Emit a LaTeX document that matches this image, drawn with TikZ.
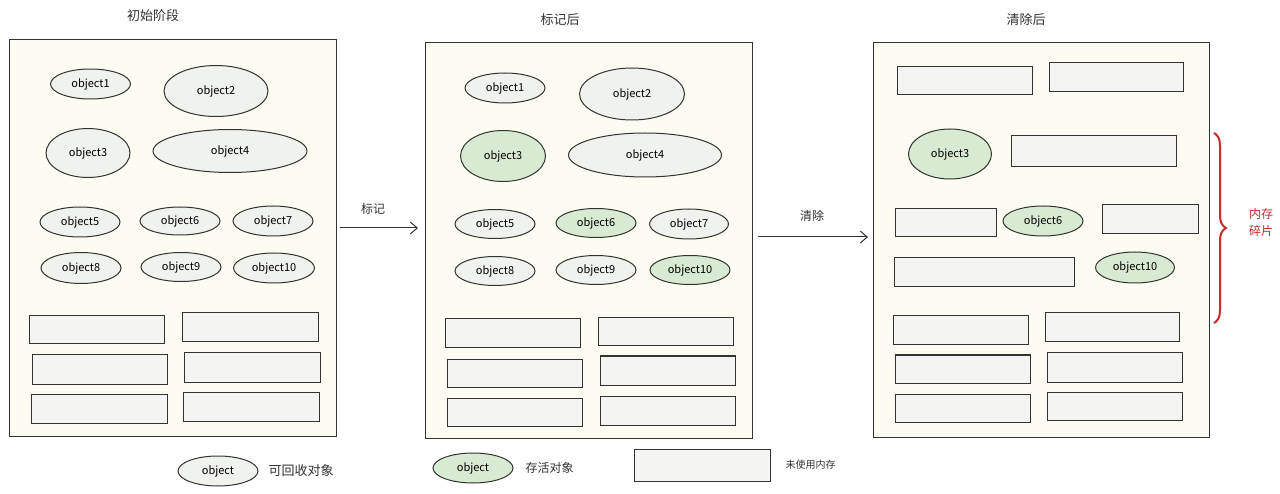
\documentclass[tikz,border=0pt]{standalone}
\usepackage{fontspec}
\setmainfont{Noto Sans CJK SC}
\newfontfamily\cjk{Noto Sans CJK SC}
\usetikzlibrary{shapes.geometric,arrows.meta,decorations.pathreplacing}
\definecolor{panelfill}{HTML}{FDFCF2}
\definecolor{objfill}{HTML}{F0F2EE}
\definecolor{livefill}{HTML}{D8EBD2}
\definecolor{memfill}{HTML}{F4F4F2}
\definecolor{ink}{HTML}{333333}
\definecolor{braceRed}{HTML}{C92A2A}
\tikzset{
  panel/.style={draw=ink, fill=panelfill, line width=1pt, rectangle, inner sep=0},
  obj/.style={draw=ink, fill=objfill, ellipse, line width=1pt, inner sep=0, text=black, font=\fontsize{11}{13}\selectfont},
  live/.style={obj, fill=livefill},
  mem/.style={draw=ink, fill=memfill, rectangle, line width=1pt, inner sep=0},
  title/.style={font=\cjk\fontsize{13}{15}\selectfont, text=ink},
  lbl/.style={font=\cjk\fontsize{12}{14}\selectfont, text=ink},
  arr/.style={draw=ink, line width=1pt, -{Straight Barb[length=7pt,width=12pt]}}
}
\begin{document}
\begin{tikzpicture}[x=1pt,y=-1pt]
\useasboundingbox[fill=white] (0,0) rectangle (1280,494);
% titles
\node[title] (t1) at (153,16) {初始阶段};
\node[title] (t2) at (560,20) {标记后};
\node[title] (t3) at (1026,20) {清除后};
% panels
\node[panel, minimum width=327, minimum height=396] (p1) at (172.5,238) {};
\node[panel, minimum width=327, minimum height=395] (p2) at (588.5,240.5) {};
\node[panel, minimum width=336, minimum height=394] (p3) at (1041,240) {};
% panel 1 objects
\node[obj, minimum width=80, minimum height=30] (a1) at (90.5,84) {object1};
\node[obj, minimum width=104, minimum height=51] (a2) at (216,91) {object2};
\node[obj, minimum width=84, minimum height=49] (a3) at (88,153) {object3};
\node[obj, minimum width=154, minimum height=43] (a4) at (230,151) {object4};
\node[obj, minimum width=80, minimum height=30] (a5) at (80,222) {object5};
\node[obj, minimum width=80, minimum height=28] (a6) at (180,221) {object6};
\node[obj, minimum width=80, minimum height=30] (a7) at (273,221) {object7};
\node[obj, minimum width=80, minimum height=31] (a8) at (81,268) {object8};
\node[obj, minimum width=80, minimum height=29] (a9) at (181,267) {object9};
\node[obj, minimum width=81, minimum height=30] (a10) at (274,268) {object10};
% panel 1 memory blocks
\node[mem, minimum width=135, minimum height=28] (am1) at (96.5,330) {};
\node[mem, minimum width=136, minimum height=29] (am2) at (250,327.5) {};
\node[mem, minimum width=135, minimum height=29] (am3) at (99.5,369.5) {};
\node[mem, minimum width=136, minimum height=29] (am4) at (252,367.5) {};
\node[mem, minimum width=136, minimum height=29] (am5) at (99,408.5) {};
\node[mem, minimum width=136, minimum height=29] (am6) at (251,406.5) {};
% panel 2 objects
\node[obj, minimum width=80, minimum height=30] (b1) at (505,88) {object1};
\node[obj, minimum width=105, minimum height=52] (b2) at (632,94) {object2};
\node[live, minimum width=85, minimum height=51] (b3) at (503,156) {object3};
\node[obj, minimum width=153, minimum height=44] (b4) at (645,155) {object4};
\node[obj, minimum width=80, minimum height=29] (b5) at (495,224) {object5};
\node[live, minimum width=80, minimum height=29] (b6) at (596,223) {object6};
\node[obj, minimum width=79, minimum height=30] (b7) at (689,224) {object7};
\node[obj, minimum width=80, minimum height=29] (b8) at (495,271) {object8};
\node[obj, minimum width=80, minimum height=29] (b9) at (596,270) {object9};
\node[live, minimum width=80, minimum height=29] (b10) at (690,270) {object10};
% panel 2 memory blocks
\node[mem, minimum width=135, minimum height=29] (bm1) at (512.5,333.5) {};
\node[mem, minimum width=135, minimum height=28] (bm2) at (665.5,332) {};
\node[mem, minimum width=135, minimum height=28] (bm3) at (514.5,373) {};
\node[mem, minimum width=135, minimum height=29] (bm4) at (667.5,370.5) {};
\node[mem, minimum width=135, minimum height=28] (bm5) at (514.5,412) {};
\node[mem, minimum width=135, minimum height=29] (bm6) at (667.5,410.5) {};
% panel 3
\node[mem, minimum width=135, minimum height=28] (cm1) at (964.5,81) {};
\node[mem, minimum width=134, minimum height=29] (cm2) at (1116,77.5) {};
\node[live, minimum width=83, minimum height=50] (c3) at (950,154) {object3};
\node[mem, minimum width=165, minimum height=31] (cm3) at (1093.5,151.5) {};
\node[mem, minimum width=101, minimum height=28] (cm4) at (945.5,223) {};
\node[live, minimum width=80, minimum height=30] (c6) at (1043,221) {object6};
\node[mem, minimum width=96, minimum height=29] (cm5) at (1150,219.5) {};
\node[mem, minimum width=180, minimum height=29] (cm6) at (984,272.5) {};
\node[live, minimum width=79, minimum height=31] (c10) at (1135,267.5) {object10};
\node[mem, minimum width=135, minimum height=29] (cm7) at (960.5,330.5) {};
\node[mem, minimum width=134, minimum height=29] (cm8) at (1112,327.5) {};
\node[mem, minimum width=135, minimum height=28] (cm9) at (962.5,369) {};
\node[mem, minimum width=135, minimum height=29] (cm10) at (1114.5,367.5) {};
\node[mem, minimum width=135, minimum height=28] (cm11) at (962.5,408) {};
\node[mem, minimum width=135, minimum height=28] (cm12) at (1114.5,406) {};
% arrows
\coordinate (s1) at (340,228);
\coordinate (e1) at (418,228);
\draw[arr] (s1) -- (e1);
\node[lbl] (l1) at (373,209) {标记};
\coordinate (s2) at (758,237);
\coordinate (e2) at (868,237);
\draw[arr] (s2) -- (e2);
\node[lbl] (l2) at (812,216) {清除};
% brace
\coordinate (bt) at (1214,133);
\coordinate (bb) at (1214,323);
\draw[braceRed, line width=2pt, decorate, decoration={brace, amplitude=12pt}] (bt) -- (bb);
\node[font=\cjk\fontsize{12}{17}\selectfont, text=braceRed, align=center] (bl) at (1261,222) {内存\\碎片};
% legend
\node[obj, minimum width=80, minimum height=30] (k1) at (218,471) {object};
\node[lbl, anchor=west, font=\cjk\fontsize{13}{15}\selectfont] (k1t) at (265,471) {可回收对象};
\node[live, minimum width=80, minimum height=30] (k2) at (473,468) {object};
\node[lbl, anchor=west, font=\cjk\fontsize{12}{14}\selectfont] (k2t) at (522,468) {存活对象};
\node[mem, minimum width=136, minimum height=32] (k3) at (702,465) {};
\node[lbl, anchor=west, font=\cjk\fontsize{10}{12}\selectfont] (k3t) at (782,465) {未使用内存};
\end{tikzpicture}
\end{document}
